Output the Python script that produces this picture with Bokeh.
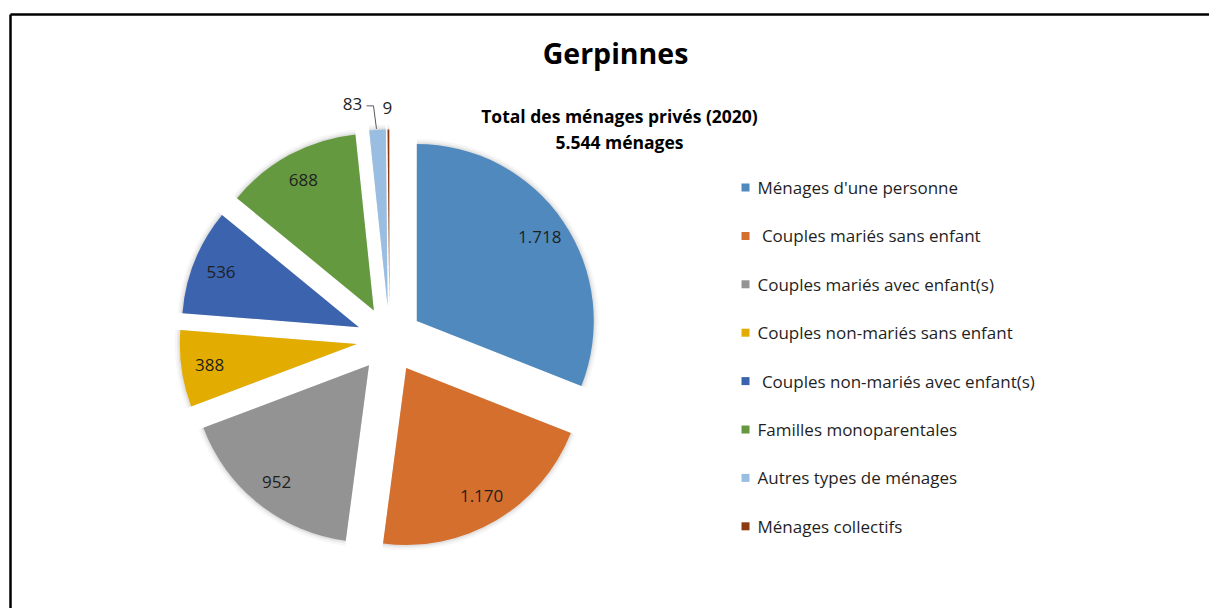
import numpy as np
from bokeh.plotting import figure
from bokeh.models import Range1d, ColumnDataSource
from bokeh.core.properties import value
from bokeh.embed import file_html
from bokeh.resources import INLINE

# ---------------- data ----------------
title = "Gerpinnes"
subtitle_lines = ["Total des ménages privés (2020)", "5.544 ménages"]
categories = [
    "Ménages d'une personne",
    " Couples mariés sans enfant",
    "Couples mariés avec enfant(s)",
    "Couples non-mariés sans enfant",
    " Couples non-mariés avec enfant(s)",
    "Familles monoparentales",
    "Autres types de ménages",
    "Ménages collectifs",
]
values = [1718, 1170, 952, 388, 536, 688, 83, 9]
value_labels = ["1.718", "1.170", "952", "388", "536", "688", "83", "9"]
colors = ["#4F89BD", "#D46F2D", "#939393", "#E3AC00", "#3B63AE", "#64993F", "#9ABDE2", "#8C3B10"]

# ---------------- layout ----------------
W, H = 1209, 608
FONT = "Open Sans"
def sy(s):
    return H - s

CX, CY = 389, sy(339)   # pie centre (screen px)
R = 177                  # radius
D = 33                   # explosion offset
LABEL_R = D + 0.84 * R

p = figure(width=W, height=H, x_range=Range1d(0, W), y_range=Range1d(0, H),
           output_backend="svg", toolbar_location=None, min_border=0)
p.axis.visible = False
p.grid.visible = False
p.outline_line_color = None
p.background_fill_color = "white"
p.border_fill_color = "white"

# frame lines (top + left)
p.segment(x0=[10, 10], y0=[sy(14), sy(14)], x1=[W, 10], y1=[sy(14), 0],
          line_color="black", line_width=2.5)

vals = np.array(values, dtype=float)
frac = vals / vals.sum()
ends = np.cumsum(frac) * 2 * np.pi
starts = ends - frac * 2 * np.pi
mids = (starts + ends) / 2

cx = CX + D * np.sin(mids)
cy = CY + D * np.cos(mids)
src = ColumnDataSource(dict(
    x=cx, y=cy,
    start=np.pi / 2 - starts, end=np.pi / 2 - ends,
    color=colors,
))

# soft shadow
for extra, a in [(5, 0.03), (3, 0.04), (1.5, 0.05)]:
    p.wedge(x="x", y="y", radius=R + extra, start_angle="start", end_angle="end",
            direction="clock", source=src, fill_color="black", fill_alpha=a, line_color=None)

p.wedge(x="x", y="y", radius=R, start_angle="start", end_angle="end",
        direction="clock", source=src, fill_color="color", line_color=None)

# value labels inside (big slices)
inside = [i for i in range(len(values)) if frac[i] > 0.05]
lx = [CX + LABEL_R * np.sin(mids[i]) for i in inside]
ly = [CY + LABEL_R * np.cos(mids[i]) for i in inside]
p.text(x=lx, y=ly, text=[value_labels[i] for i in inside],
       text_font=value(FONT), text_font_size="17px", text_color="#1f1f1f",
       text_align="center", text_baseline="middle")

# small slices: outside labels with leader line
outer = [i for i in range(len(values)) if frac[i] <= 0.05]
offsets = {6: (-25, 26), 7: (-1, 22)}
for i in outer:
    ox = CX + (D + R) * np.sin(mids[i])
    oy = CY + (D + R) * np.cos(mids[i])
    dx, dy = offsets.get(i, (0, 22))
    p.text(x=[ox + dx], y=[oy + dy], text=[value_labels[i]],
           text_font=value(FONT), text_font_size="17px", text_color="#1f1f1f",
           text_align="center", text_baseline="middle")
    if i == 6:
        p.line(x=[ox - 1, ox - 4, ox - 11], y=[oy + 1, oy + 24, oy + 24],
               line_color="#595959", line_width=1)

# title & subtitle
p.text(x=[615], y=[sy(52)], text=[title], text_font=value(FONT),
       text_font_size="28.5px", text_font_style="bold", text_color="black",
       text_align="center", text_baseline="middle")
p.text(x=[619, 619], y=[sy(115), sy(141)], text=subtitle_lines, text_font=value(FONT),
       text_font_size="17.5px", text_font_style="bold", text_color="black",
       text_align="center", text_baseline="middle")

# legend
n = len(categories)
leg_y = [sy(187 + 48.4 * k) for k in range(n)]
leg_text = [("\u00a0" + c[1:]) if c.startswith(" ") else c for c in categories]
p.scatter(x=[745] * n, y=leg_y, marker="square", size=8, fill_color=colors, line_color=None)
p.text(x=[757] * n, y=leg_y, text=leg_text, text_font=value(FONT),
       text_font_size="17px", text_color="#1f1f1f", text_align="left", text_baseline="middle")

open("out.html", "w").write(file_html(p, INLINE))
